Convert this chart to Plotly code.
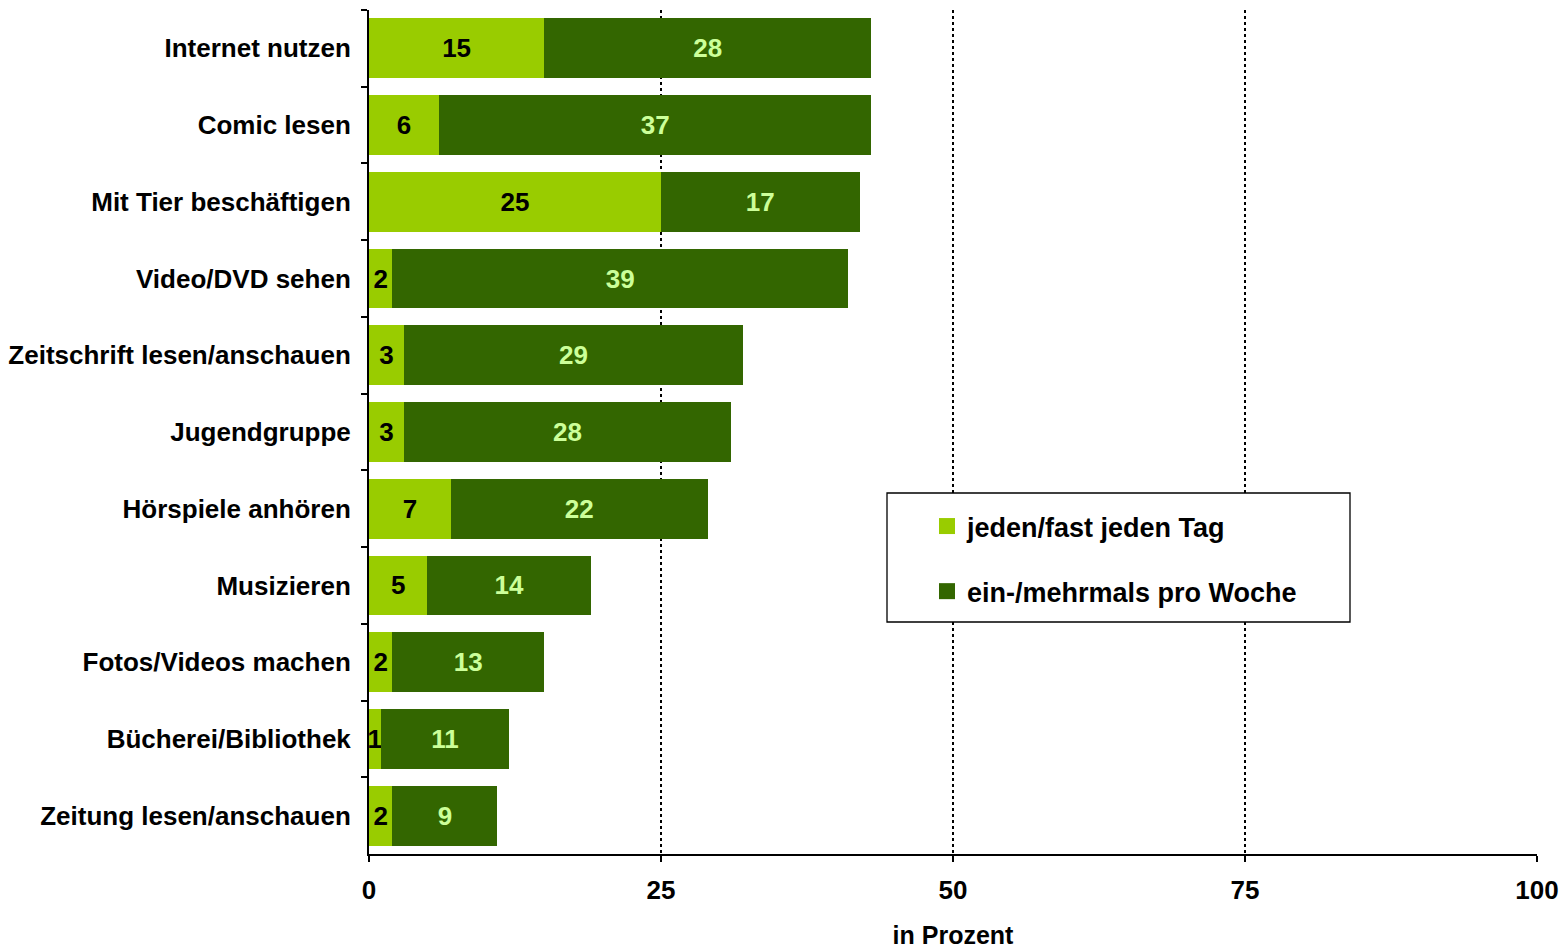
import plotly.graph_objects as go

categories = ["Internet nutzen", "Comic lesen", "Mit Tier beschäftigen", "Video/DVD sehen",
              "Zeitschrift lesen/anschauen", "Jugendgruppe", "Hörspiele anhören", "Musizieren",
              "Fotos/Videos machen", "Bücherei/Bibliothek", "Zeitung lesen/anschauen"]
daily = [15, 6, 25, 2, 3, 3, 7, 5, 2, 1, 2]
weekly = [28, 37, 17, 39, 29, 28, 22, 14, 13, 11, 9]
series_names = ["jeden/fast jeden Tag", "ein-/mehrmals pro Woche"]
x_ticks = [0, 25, 50, 75, 100]

FONT = "Liberation Sans, Arial, sans-serif"
LIGHT = "#99CC00"
DARK = "#336600"
FS = 26

fig = go.Figure()
fig.add_trace(go.Bar(
    y=categories, x=daily, orientation="h", name=series_names[0],
    marker=dict(color=LIGHT, line=dict(width=0)),
    text=[str(v) for v in daily], textposition="inside", insidetextanchor="middle",
    constraintext="none", cliponaxis=False,
    textfont=dict(family=FONT, size=FS, color="black", weight="bold"),
    showlegend=False, hoverinfo="skip",
))
fig.add_trace(go.Bar(
    y=categories, x=weekly, orientation="h", name=series_names[1],
    marker=dict(color=DARK, line=dict(width=0)),
    text=[str(v) for v in weekly], textposition="inside", insidetextanchor="middle",
    constraintext="none",
    textfont=dict(family=FONT, size=FS, color="#CCFF99", weight="bold"),
    showlegend=False, hoverinfo="skip",
))
# legend entries (square symbols like the original)
for name, col, grp in [(series_names[0], LIGHT, "a"), (series_names[1], DARK, "b")]:
    fig.add_trace(go.Scatter(
        x=[None], y=[None], mode="markers", name=name,
        marker=dict(symbol="square", size=18, color=col),
        legendgroup=grp, showlegend=True,
    ))

fig.update_layout(
    barmode="stack",
    bargap=0.22,
    width=1560, height=951,
    margin=dict(l=369, r=23, t=10, b=97, autoexpand=False),
    plot_bgcolor="white", paper_bgcolor="white",
    font=dict(family=FONT, color="black"),
    showlegend=True,
    legend=dict(
        x=(927 - 369) / 1168, y=(854 - 502) / 844, xanchor="left", yanchor="top",
        bgcolor="rgba(0,0,0,0)", borderwidth=0,
        font=dict(family=FONT, size=27, color="black", weight="bold"),
        tracegroupgap=27, traceorder="grouped",
        itemwidth=30,
    ),
    shapes=[dict(type="rect", xref="paper", yref="paper",
                 x0=(887 - 369) / 1168, x1=(1350 - 369) / 1168,
                 y0=(854 - 622) / 844, y1=(854 - 493) / 844,
                 line=dict(color="black", width=1.3), fillcolor="white", layer="above")],
)

fig.update_yaxes(
    autorange="reversed",
    showline=True, linecolor="black", linewidth=2,
    ticks="outside", tickson="boundaries", ticklen=6, tickcolor="black", tickwidth=2,
    tickfont=dict(family=FONT, size=FS, color="black", weight="bold"),
    ticklabelstandoff=11,
    showgrid=False,
)
fig.update_xaxes(
    range=[0, 100], tickvals=x_ticks, ticktext=[str(t) for t in x_ticks],
    showline=True, linecolor="black", linewidth=2,
    ticks="outside", ticklen=6, tickcolor="black", tickwidth=2,
    tickfont=dict(family=FONT, size=FS, color="black", weight="bold"),
    ticklabelstandoff=6,
    showgrid=True, gridcolor="black", gridwidth=2, griddash="dot",
    zeroline=False,
    title=dict(text="in Prozent", font=dict(family=FONT, size=25, color="black", weight="bold"), standoff=22),
)

fig.write_html("out.html", config={"displayModeBar": False},
               post_script="document.body.style.margin='0';")
